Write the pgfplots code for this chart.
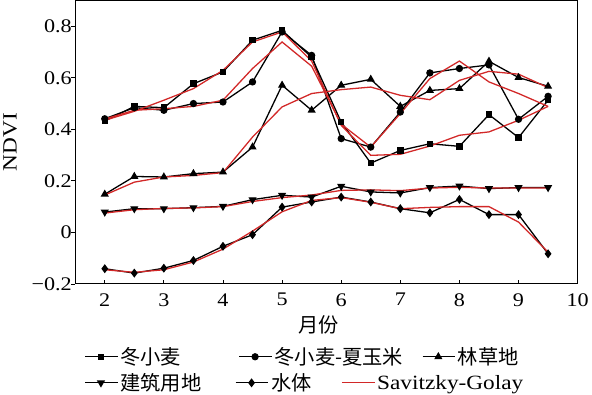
\documentclass[border=0pt]{standalone}
\usepackage{pgfplots}
\pgfplotsset{compat=1.18}
\usepackage{fontspec}
\setmainfont{Liberation Serif}[FakeStretch=1.15]
\newfontfamily\cjk{Noto Sans CJK SC}
\definecolor{sgred}{RGB}{210,40,40}
\pgfplotsset{
  lgimg/.style={legend image code/.code={\draw[mark repeat=2,mark phase=2,##1] plot coordinates {(0bp,0bp)(16bp,0bp)(33bp,0bp)};}},
}
\begin{document}
\begin{tikzpicture}
\begin{axis}[
  scale only axis, width=507bp, height=286bp,
  xmin=1.5, xmax=10, ymin=-0.2, ymax=0.9,
  xtick={2,3,4,5,6,7,8,9,10},
  ytick={-0.2,0,0.2,0.4,0.6,0.8},
  yticklabels={−0.2,0,0.2,0.4,0.6,0.8},
  /pgf/number format/assume math mode=true,
  tick align=inside, xtick pos=bottom, ytick pos=left,
  ytick style={xshift=-4bp},
  major tick length=4bp,
  axis line style={line width=1bp},
  tick style={line width=0.8bp, black},
  tick label style={font=\fontsize{19.5}{22}\selectfont},
  xticklabel style={yshift=-6bp},
  label style={font=\fontsize{20.5}{22}\selectfont},
  xlabel={\cjk 月份}, ylabel={NDVI},
  xlabel style={yshift=-2bp, xshift=-8bp},
  ylabel style={yshift=8bp},
  legend style={draw=none, at={(0.018,-0.257)}, anchor=west, legend columns=3,
    font=\fontsize{20.5}{22}\selectfont\cjk, inner sep=0pt,
    /tikz/column 2/.style={column sep=56bp},
    /tikz/column 4/.style={column sep=17bp}},
  lgimg,
  every axis plot/.append style={line width=1.3bp},
  mark size=3bp,
]
\addplot[black, mark=square*, mark size=2.6bp] coordinates {(2,0.432)(2.5,0.489)(3,0.484)(3.5,0.577)(4,0.623)(4.5,0.746)(5,0.784)(5.5,0.68)(6,0.428)(6.5,0.269)(7,0.318)(7.5,0.344)(8,0.334)(8.5,0.457)(9,0.368)(9.5,0.513)};
\addlegendentry{冬小麦}
\addplot[black, mark=*] coordinates {(2,0.441)(2.5,0.484)(3,0.474)(3.5,0.5)(4,0.506)(4.5,0.584)(5,0.778)(5.5,0.687)(6,0.364)(6.5,0.331)(7,0.467)(7.5,0.619)(8,0.636)(8.5,0.65)(9,0.439)(9.5,0.528)};
\addlegendentry{冬小麦-夏玉米}
\addplot[black, mark=triangle*, mark size=3.5bp] coordinates {(2,0.148)(2.5,0.217)(3,0.215)(3.5,0.228)(4,0.234)(4.5,0.331)(5,0.571)(5.5,0.474)(6,0.571)(6.5,0.594)(7,0.489)(7.5,0.551)(8,0.558)(8.5,0.664)(9,0.601)(9.5,0.567)};
\addlegendentry{林草地}
\addplot[black, mark=triangle*, mark size=3.5bp, mark options={rotate=180}, forget plot] coordinates {(2,0.079)(2.5,0.092)(3,0.092)(3.5,0.096)(4,0.101)(4.5,0.127)(5,0.144)(5.5,0.137)(6,0.179)(6.5,0.157)(7,0.153)(7.5,0.174)(8,0.18)(8.5,0.17)(9,0.174)(9.5,0.174)};
\addplot[black, mark=diamond*, mark size=3.5bp, forget plot] coordinates {(2,-0.141)(2.5,-0.158)(3,-0.139)(3.5,-0.109)(4,-0.054)(4.5,-0.009)(5,0.098)(5.5,0.118)(6,0.137)(6.5,0.118)(7,0.092)(7.5,0.076)(8,0.128)(8.5,0.069)(9,0.069)(9.5,-0.083)};
\addplot[sgred, no marks, forget plot] coordinates {(2,0.435)(2.5,0.47)(3,0.513)(3.5,0.558)(4,0.629)(4.5,0.739)(5,0.778)(5.5,0.665)(6,0.415)(6.5,0.299)(7,0.303)(7.5,0.335)(8,0.377)(8.5,0.39)(9,0.435)(9.5,0.489)};
\addplot[sgred, no marks, forget plot] coordinates {(2,0.44)(2.5,0.474)(3,0.48)(3.5,0.489)(4,0.513)(4.5,0.636)(5,0.739)(5.5,0.645)(6,0.42)(6.5,0.331)(7,0.461)(7.5,0.597)(8,0.665)(8.5,0.584)(9,0.539)(9.5,0.489)};
\addplot[sgred, no marks, forget plot] coordinates {(2,0.145)(2.5,0.195)(3,0.215)(3.5,0.221)(4,0.232)(4.5,0.37)(5,0.487)(5.5,0.539)(6,0.554)(6.5,0.564)(7,0.532)(7.5,0.515)(8,0.59)(8.5,0.625)(9,0.614)(9.5,0.562)};
\addplot[sgred, no marks, forget plot] coordinates {(2,0.075)(2.5,0.088)(3,0.093)(3.5,0.095)(4,0.1)(4.5,0.12)(5,0.135)(5.5,0.145)(6,0.163)(6.5,0.165)(7,0.162)(7.5,0.172)(8,0.175)(8.5,0.172)(9,0.172)(9.5,0.172)};
\addplot[sgred, no marks, forget plot] coordinates {(2,-0.145)(2.5,-0.155)(3,-0.145)(3.5,-0.115)(4,-0.065)(4.5,0.005)(5,0.08)(5.5,0.124)(6,0.135)(6.5,0.117)(7,0.092)(7.5,0.097)(8,0.1)(8.5,0.1)(9,0.04)(9.5,-0.077)};
\end{axis}
\begin{axis}[
  scale only axis, width=507bp, height=286bp,
  xmin=0, xmax=1, ymin=0, ymax=1, hide axis,
  legend style={draw=none, at={(0.018,-0.349)}, anchor=west, legend columns=3,
    font=\fontsize{20.5}{22}\selectfont, inner sep=0pt,
    /tikz/column 2/.style={column sep=32bp},
    /tikz/column 4/.style={column sep=28bp}},
  lgimg,
]
\addlegendimage{black, line width=1.3bp, mark=triangle*, mark size=3.5bp, mark options={rotate=180}}
\addlegendentry{\cjk 建筑用地}
\addlegendimage{black, line width=1.3bp, mark=diamond*, mark size=3.5bp}
\addlegendentry{\cjk 水体}
\addlegendimage{sgred, line width=1.3bp, no marks}
\addlegendentry{Savitzky-Golay}
\end{axis}
\end{tikzpicture}
\end{document}
